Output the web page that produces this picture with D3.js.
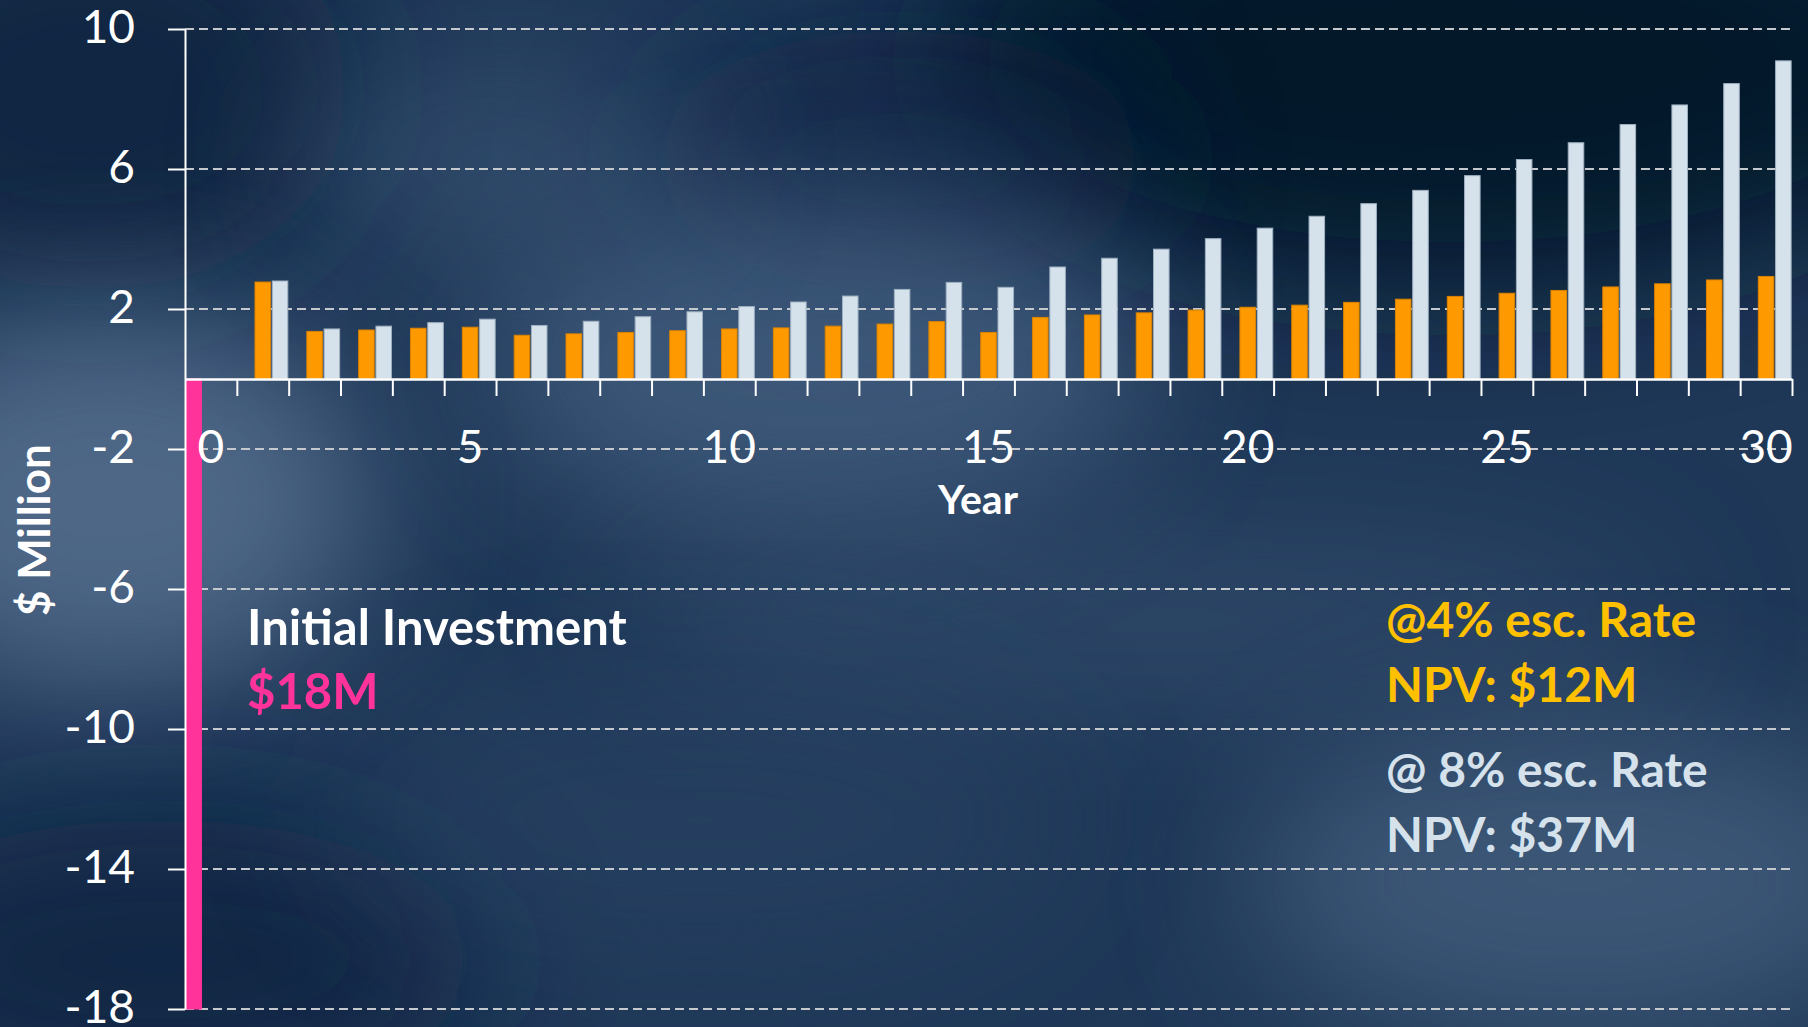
<!DOCTYPE html>
<html>
<head>
<meta charset="utf-8">
<script src="https://cdnjs.cloudflare.com/ajax/libs/d3/7.8.5/d3.min.js"></script>
<style>
  html, body { margin: 0; padding: 0; background: #1e3654; overflow: hidden; }
  text { font-family: Lato, "Open Sans", sans-serif; }
</style>
</head>
<body>
<div id="chart"></div>
<script>
// data ($ million per year)
var years = [0, 1, 2, 3, 4, 5, 6, 7, 8, 9, 10, 11, 12, 13, 14, 15, 16, 17, 18, 19, 20,
    21, 22, 23, 24, 25, 26, 27, 28, 29, 30];
var initialInvestment = [-18, null, null, null, null, null, null, null, null, null, null,
    null, null, null, null, null, null, null, null, null, null,
    null, null, null, null, null, null, null, null, null, null];
var esc4 = [null, 2.77, 1.36, 1.40, 1.45, 1.48, 1.25, 1.29, 1.33, 1.38, 1.43,
    1.46, 1.51, 1.57, 1.64, 1.33, 1.76, 1.83, 1.89, 1.97, 2.05,
    2.11, 2.19, 2.28, 2.36, 2.45, 2.53, 2.63, 2.72, 2.83, 2.93];
var esc8 = [null, 2.80, 1.43, 1.51, 1.61, 1.71, 1.53, 1.65, 1.78, 1.92, 2.07,
    2.20, 2.37, 2.56, 2.76, 2.62, 3.20, 3.45, 3.71, 4.01, 4.31,
    4.65, 5.01, 5.39, 5.81, 6.27, 6.75, 7.27, 7.83, 8.44, 9.09];
var yTicks = [10, 6, 2, -2, -6, -10, -14, -18];
var xLabels = [0, 5, 10, 15, 20, 25, 30];

var svgWidth = 1808;
var svgHeight = 1027;

var margin = { top: 29, right: 16, bottom: 18, left: 185 };
var chartWidth = svgWidth - margin.left - margin.right;
var chartHeight = svgHeight - margin.top - margin.bottom;

var svg = d3.select("#chart")
    .append("svg")
    .attr("width", svgWidth)
    .attr("height", svgHeight);

// cloudy navy background
var defs = svg.append("defs");
defs.append("filter")
    .attr("id", "blur")
    .attr("x", "-50%").attr("y", "-50%").attr("width", "200%").attr("height", "200%")
    .append("feGaussianBlur")
    .attr("stdDeviation", 70);

var bg = svg.append("g");
bg.append("rect")
    .attr("width", svgWidth)
    .attr("height", svgHeight)
    .attr("fill", "#1f3858");

var clouds = [
    { cx: 1450, cy: 60, rx: 520, ry: 230, fill: "#061427", op: 0.9 },
    { cx: 90, cy: 90, rx: 260, ry: 200, fill: "#0f223e", op: 0.8 },
    { cx: 900, cy: 160, rx: 250, ry: 130, fill: "#0e2442", op: 0.7 },
    { cx: 110, cy: 500, rx: 260, ry: 190, fill: "#5a7393", op: 0.8 },
    { cx: 820, cy: 360, rx: 330, ry: 170, fill: "#4a6586", op: 0.7 },
    { cx: 500, cy: 160, rx: 200, ry: 90, fill: "#3d5878", op: 0.6 },
    { cx: 160, cy: 960, rx: 320, ry: 140, fill: "#0f2440", op: 0.8 },
    { cx: 1580, cy: 880, rx: 330, ry: 160, fill: "#4f6a8a", op: 0.6 },
    { cx: 1150, cy: 620, rx: 520, ry: 90, fill: "#3a5576", op: 0.5 },
    { cx: 700, cy: 820, rx: 360, ry: 140, fill: "#2a4566", op: 0.5 }
];
bg.selectAll("ellipse")
    .data(clouds)
    .enter()
    .append("ellipse")
    .attr("cx", d => d.cx)
    .attr("cy", d => d.cy)
    .attr("rx", d => d.rx)
    .attr("ry", d => d.ry)
    .attr("fill", d => d.fill)
    .attr("opacity", d => d.op)
    .attr("filter", "url(#blur)");

var chartGroup = svg.append("g")
    .attr("transform", `translate(${margin.left}, ${margin.top})`);

// Scales
var xBand = d3.scaleBand()
    .domain(years)
    .range([0, chartWidth])
    .padding(0);

var series = ["initial", "esc4", "esc8"];
var xInner = d3.scaleBand()
    .domain(series)
    .range([0, xBand.bandwidth()])
    .paddingInner(0.1)
    .paddingOuter(0.05);

var yScale = d3.scaleLinear()
    .domain([-18, 10])
    .range([chartHeight, 0]);

// boundary ticks sit between the year bands
var xEdge = d3.scaleLinear()
    .domain([0, years.length])
    .range([0, chartWidth]);

// dashed gridlines
chartGroup.selectAll(".grid")
    .data(yTicks)
    .enter()
    .append("line")
    .attr("class", "grid")
    .attr("x1", 0)
    .attr("x2", chartWidth)
    .attr("y1", d => yScale(d))
    .attr("y2", d => yScale(d))
    .attr("stroke", "#c5c9ce")
    .attr("stroke-width", 2)
    .attr("stroke-dasharray", "9,5");

// bars
var rows = years.map(function(yr, i) {
    return { year: yr, initial: initialInvestment[i], esc4: esc4[i], esc8: esc8[i] };
});
var colors = { initial: "#ff3399", esc4: "#ff9900", esc8: "#d5e2ec" };
var strokes = { initial: "#ff3399", esc4: "#d98200", esc8: "#9fb0c0" };

var barData = [];
rows.forEach(function(r) {
    series.forEach(function(s) {
        if (r[s] != null) barData.push({ year: r.year, key: s, value: r[s] });
    });
});

chartGroup.selectAll(".bar")
    .data(barData)
    .enter()
    .append("rect")
    .attr("class", "bar")
    .attr("x", d => xBand(d.year) + xInner(d.key))
    .attr("width", xInner.bandwidth())
    .attr("y", d => yScale(Math.max(0, d.value)))
    .attr("height", d => Math.abs(yScale(d.value) - yScale(0)))
    .attr("fill", d => colors[d.key])
    .attr("stroke", d => strokes[d.key])
    .attr("stroke-width", 1);

// left axis (plain hyphens like the original)
var leftAxis = d3.axisLeft(yScale)
    .tickValues(yTicks)
    .tickSize(17)
    .tickSizeOuter(0)
    .tickPadding(33)
    .tickFormat(d => String(d));

var yAxisG = chartGroup.append("g").call(leftAxis);
yAxisG.select(".domain").attr("stroke", "#ffffff").attr("stroke-width", 2);
yAxisG.selectAll(".tick line").attr("stroke", "#ffffff").attr("stroke-width", 2);
yAxisG.selectAll(".tick text")
    .attr("fill", "#ffffff")
    .attr("dy", "0.3em")
    .style("font-size", "46px")
    .style("font-family", "Lato, sans-serif");

// zero axis with boundary ticks
var edgeAxis = d3.axisBottom(xEdge)
    .tickValues(d3.range(1, years.length + 1))
    .tickSize(17)
    .tickSizeOuter(0)
    .tickFormat("");

var xAxisG = chartGroup.append("g")
    .attr("transform", `translate(0, ${yScale(0)})`)
    .call(edgeAxis);
xAxisG.select(".domain").attr("stroke", "#ffffff").attr("stroke-width", 2.5);
xAxisG.selectAll(".tick line").attr("stroke", "#ffffff").attr("stroke-width", 2);

// year labels every 5 years, under the band centres
var labelAxis = d3.axisBottom(xBand)
    .tickValues(xLabels)
    .tickSize(0)
    .tickPadding(51);

var labelG = chartGroup.append("g")
    .attr("transform", `translate(0, ${yScale(0)})`)
    .call(labelAxis);
labelG.select(".domain").remove();
labelG.selectAll(".tick text")
    .attr("fill", "#ffffff")
    .style("font-size", "46px")
    .style("font-family", "Lato, sans-serif");

// axis titles
chartGroup.append("text")
    .attr("x", 793)
    .attr("y", 485)
    .attr("text-anchor", "middle")
    .attr("fill", "#ffffff")
    .style("font-weight", "bold")
    .style("font-size", "41px")
    .text("Year");

chartGroup.append("text")
    .attr("transform", "rotate(-90)")
    .attr("x", -(530 - margin.top))
    .attr("y", 50 - margin.left)
    .attr("text-anchor", "middle")
    .attr("fill", "#ffffff")
    .style("font-weight", "bold")
    .style("font-size", "44px")
    .text("$ Million");

// annotations
var notes = [
    { x: 247, y: 645, text: "Initial Investment", color: "#ffffff", size: 49 },
    { x: 247, y: 709, text: "$18M", color: "#ff3399", size: 49 },
    { x: 1386, y: 637, text: "@4% esc. Rate", color: "#ffc000", size: 48 },
    { x: 1386, y: 702, text: "NPV: $12M", color: "#ffc000", size: 48 },
    { x: 1386, y: 787, text: "@ 8% esc. Rate", color: "#d5e2ec", size: 48 },
    { x: 1386, y: 852, text: "NPV: $37M", color: "#d5e2ec", size: 48 }
];
svg.selectAll(".note")
    .data(notes)
    .enter()
    .append("text")
    .attr("class", "note")
    .attr("x", d => d.x)
    .attr("y", d => d.y)
    .attr("fill", d => d.color)
    .style("font-weight", "bold")
    .style("font-size", d => d.size + "px")
    .text(d => d.text);
</script>
</body>
</html>
